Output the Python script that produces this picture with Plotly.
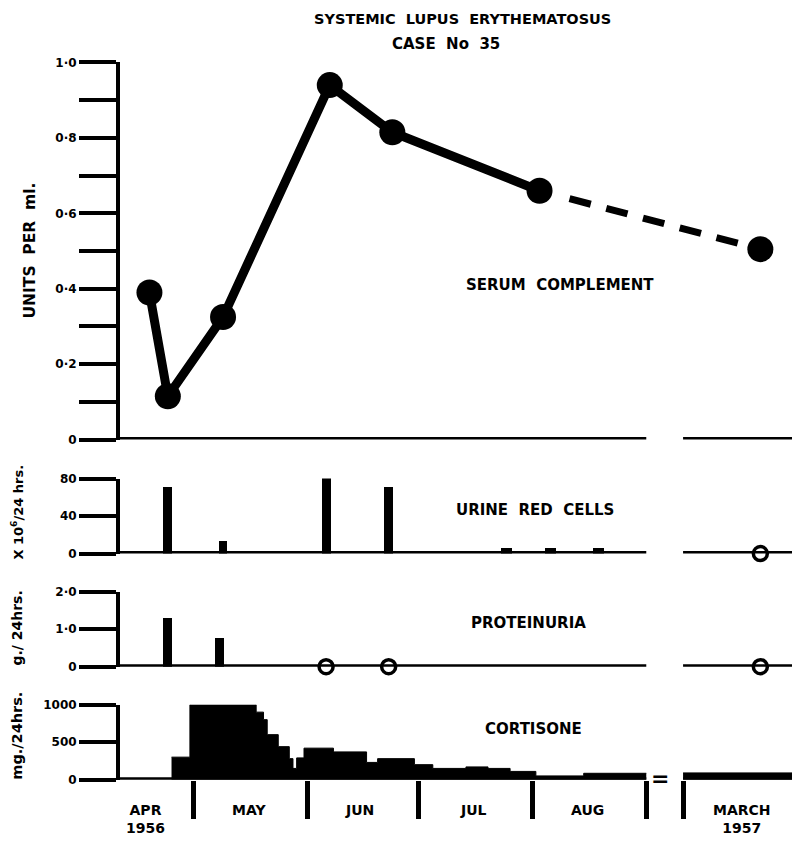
from datetime import date
import plotly.graph_objects as go

# ---------------------------------------------------------------------------
# Data (Case No 35, April 1956 - March 1957)
# ---------------------------------------------------------------------------
serum_dates = ["1956-04-19", "1956-04-24", "1956-05-09", "1956-06-07",
               "1956-06-24", "1956-08-03", "1957-03-22"]
serum_values = [0.39, 0.115, 0.325, 0.94, 0.815, 0.66, 0.505]   # units per ml

urine_dates = ["1956-04-24", "1956-05-09", "1956-06-06", "1956-06-23",
               "1956-07-25", "1956-08-06", "1956-08-19"]
urine_values = [72, 14, 84, 71, 6, 6, 6]                        # x10^6 / 24 hrs
urine_nil_dates = ["1957-03-22"]

protein_dates = ["1956-04-24", "1956-05-08"]
protein_values = [1.3, 0.77]                                    # g / 24 hrs
protein_nil_dates = ["1956-06-06", "1956-06-23", "1957-03-22"]

# cortisone: dose in force from each date onward (mg / 24 hrs)
cortisone_1956_dates = ["1956-04-25", "1956-04-30", "1956-05-18", "1956-05-20",
                        "1956-05-21", "1956-05-24", "1956-05-27", "1956-05-28",
                        "1956-05-29", "1956-05-31", "1956-06-08", "1956-06-17",
                        "1956-06-20", "1956-06-30", "1956-07-05", "1956-07-14",
                        "1956-07-20", "1956-07-26", "1956-08-02", "1956-08-15",
                        "1956-09-01"]
cortisone_1956_doses = [300, 1000, 900, 800, 600, 440, 280, 150, 290, 420, 370,
                        230, 280, 200, 150, 170, 150, 110, 50, 85, 85]
cortisone_1957_dates = ["1957-03-01", "1957-04-01"]
cortisone_1957_doses = [90, 90]

month_edges = ["1956-05-01", "1956-06-01", "1956-07-01", "1956-08-01",
               "1956-09-01", "1957-03-01"]
month_label_dates = ["1956-04-18", "1956-05-16", "1956-06-15", "1956-07-16",
                     "1956-08-16", "1957-03-17"]
month_labels = ["APR<br>1956", "MAY", "JUN", "JUL", "AUG", "MARCH<br>1957"]

serum_ticks = [0, 0.2, 0.4, 0.6, 0.8, 1.0]
serum_ticktext = ["0", "0·2", "0·4", "0·6", "0·8", "1·0"]
urine_ticks = [0, 40, 80]
protein_ticks = [0, 1.0, 2.0]
protein_ticktext = ["0", "1·0", "2·0"]
cortisone_ticks = [0, 500, 1000]

# ---------------------------------------------------------------------------
# Broken time axis: days from 1 April 1956, with Sept 1956 - Feb 1957 cut out
# and replaced by a short gap.
# ---------------------------------------------------------------------------
ORIGIN = date(1956, 4, 1)
MARCH_1957 = 163          # axis position given to 1 March 1957


def pos(s):
    d = date.fromisoformat(s)
    if d.year == 1956:
        return (d - ORIGIN).days
    return MARCH_1957 + (d - date(1957, 3, 1)).days


def P(lst):
    return [pos(s) for s in lst]


X_START = 10.0
X_END = 192.6
AUG_END = pos("1956-09-01")

W, H = 792, 844
FONT = "DejaVu Sans"
BLACK = "black"


def px(x):
    return x / W


def py(y):
    return 1 - y / H


fig = go.Figure()

# panel layout: (pixel top, pixel bottom) of each value range
panels = {
    "y": (56.4, 439.9),
    "y2": (479.5, 555.8),
    "y3": (594.5, 670.8),
    "y4": (709.4, 785.7),
}
xaxes = {"y": "x", "y2": "x2", "y3": "x3", "y4": "x4"}


def baseline(yref):
    fig.add_trace(go.Scatter(
        x=[X_START, AUG_END, None, MARCH_1957, X_END + 5],
        y=[0, 0, None, 0, 0], mode="lines",
        line=dict(color=BLACK, width=5), cliponaxis=False,
        xaxis=xaxes[yref], yaxis=yref, hoverinfo="skip"))


# --- cortisone (stepped fill) ---
baseline("y4")
for dates, doses in ((cortisone_1956_dates, cortisone_1956_doses),
                     (cortisone_1957_dates, cortisone_1957_doses)):
    fig.add_trace(go.Scatter(
        x=P(dates), y=doses, mode="lines", line_shape="hv",
        line=dict(color=BLACK, width=1), fill="tozeroy", fillcolor=BLACK,
        xaxis="x4", yaxis="y4"))

# --- urine red cells ---
baseline("y2")
fig.add_trace(go.Bar(
    x=P(urine_dates), y=urine_values,
    width=[2.4 if v > 10 else 3.2 for v in urine_values],
    marker_color=BLACK, marker_line_width=0, xaxis="x2", yaxis="y2"))
fig.add_trace(go.Scatter(
    x=P(urine_nil_dates), y=[0] * len(urine_nil_dates), mode="markers",
    marker=dict(symbol="circle-open", size=14, color=BLACK, line=dict(width=3.5)),
    cliponaxis=False, xaxis="x2", yaxis="y2"))

# --- proteinuria ---
baseline("y3")
fig.add_trace(go.Bar(
    x=P(protein_dates), y=protein_values, width=2.4, marker_color=BLACK,
    marker_line_width=0, xaxis="x3", yaxis="y3"))
fig.add_trace(go.Scatter(
    x=P(protein_nil_dates), y=[0] * len(protein_nil_dates), mode="markers",
    marker=dict(symbol="circle-open", size=14, color=BLACK, line=dict(width=3.5)),
    cliponaxis=False, xaxis="x3", yaxis="y3"))

# --- serum complement ---
baseline("y")
sx = P(serum_dates)
fig.add_trace(go.Scatter(
    x=sx[-2:], y=serum_values[-2:], mode="lines",
    line=dict(color=BLACK, width=7,
              dash="0px,31px,22px,16px,22px,16px,22px,16px,22px,16px,22px,80px"),
    cliponaxis=False, xaxis="x", yaxis="y"))
fig.add_trace(go.Scatter(
    x=sx[:-1], y=serum_values[:-1], mode="lines",
    line=dict(color=BLACK, width=9), cliponaxis=False, xaxis="x", yaxis="y"))
fig.add_trace(go.Scatter(
    x=sx, y=serum_values, mode="markers",
    marker=dict(color=BLACK, size=26), cliponaxis=False, xaxis="x", yaxis="y"))

# ---------------------------------------------------------------------------
# Axes
# ---------------------------------------------------------------------------
xdom = [px(120), 1]
tickfont = dict(family=FONT, size=12, color=BLACK, weight="bold")
layout = dict(
    width=W, height=H, margin=dict(l=0, r=0, t=0, b=0),
    plot_bgcolor="white", paper_bgcolor="white", showlegend=False,
    font=dict(family=FONT, color=BLACK, weight="bold"),
    bargap=0,
)

for yref, (top, bot) in panels.items():
    xname = xaxes[yref].replace("x", "xaxis")
    yname = yref.replace("y", "yaxis")
    layout[xname] = dict(domain=xdom, range=[X_START, X_END], anchor=yref,
                         showgrid=False, zeroline=False, showline=False,
                         showticklabels=False, ticks="", fixedrange=True)
    layout[yname] = dict(domain=[py(bot), py(top)], anchor=xaxes[yref],
                         showgrid=False, zeroline=False, showline=True,
                         linewidth=4, linecolor=BLACK, ticks="outside",
                         ticklen=37, tickwidth=4, tickcolor=BLACK,
                         tickfont=tickfont, fixedrange=True)

layout["yaxis"].update(range=[0, 1.0], tickvals=serum_ticks, ticktext=serum_ticktext,
                       minor=dict(ticks="outside", ticklen=37, tickwidth=4,
                                  tickcolor=BLACK, tick0=0, dtick=0.1))
layout["yaxis2"].update(range=[0, 80], tickvals=urine_ticks)
layout["yaxis3"].update(range=[0, 2.0], tickvals=protein_ticks, ticktext=protein_ticktext)
layout["yaxis4"].update(range=[0, 1000], tickvals=cortisone_ticks)
layout["xaxis4"].update(ticks="outside", ticklen=38.5, tickwidth=5, tickcolor=BLACK,
                        tickvals=P(month_edges))

fig.update_layout(**layout)

# ---------------------------------------------------------------------------
# Text
# ---------------------------------------------------------------------------
def note(text, x, y, size=15, angle=0):
    fig.add_annotation(text=text, x=px(x), y=py(y), xref="paper", yref="paper",
                       xanchor="center", yanchor="middle",
                       showarrow=False, textangle=angle,
                       font=dict(family=FONT, size=size, color=BLACK, weight="bold"))


note("SYSTEMIC  LUPUS  ERYTHEMATOSUS", 462, 12.6, 14.5)
note("CASE  No  35", 446, 38, 15)
note("SERUM  COMPLEMENT", 560, 282.2, 15)
note("URINE  RED  CELLS", 535, 511.1, 15)
note("PROTEINURIA", 528, 626, 15)
note("CORTISONE", 533, 733.9, 15)

note("UNITS  PER  ml.", 30, 247.6, 15.5, -90)
note("X 10<sup>6</sup>/24 hrs.", 17, 514.1, 13, -90)
note("g./ 24hrs.", 17, 632.1, 14, -90)
note("mg./24hrs.", 17, 741, 14.5, -90)

note("=", 660, 784.7, 22)

# month names under the time axis (year on a second line where it changes)
for d, lab in zip(month_label_dates, month_labels):
    fig.add_annotation(text=lab, x=pos(d), xref="x4", y=py(806), yref="paper",
                       xanchor="center", yanchor="top", showarrow=False,
                       font=dict(family=FONT, size=14, color=BLACK, weight="bold"))

fig.write_html("out.html")
